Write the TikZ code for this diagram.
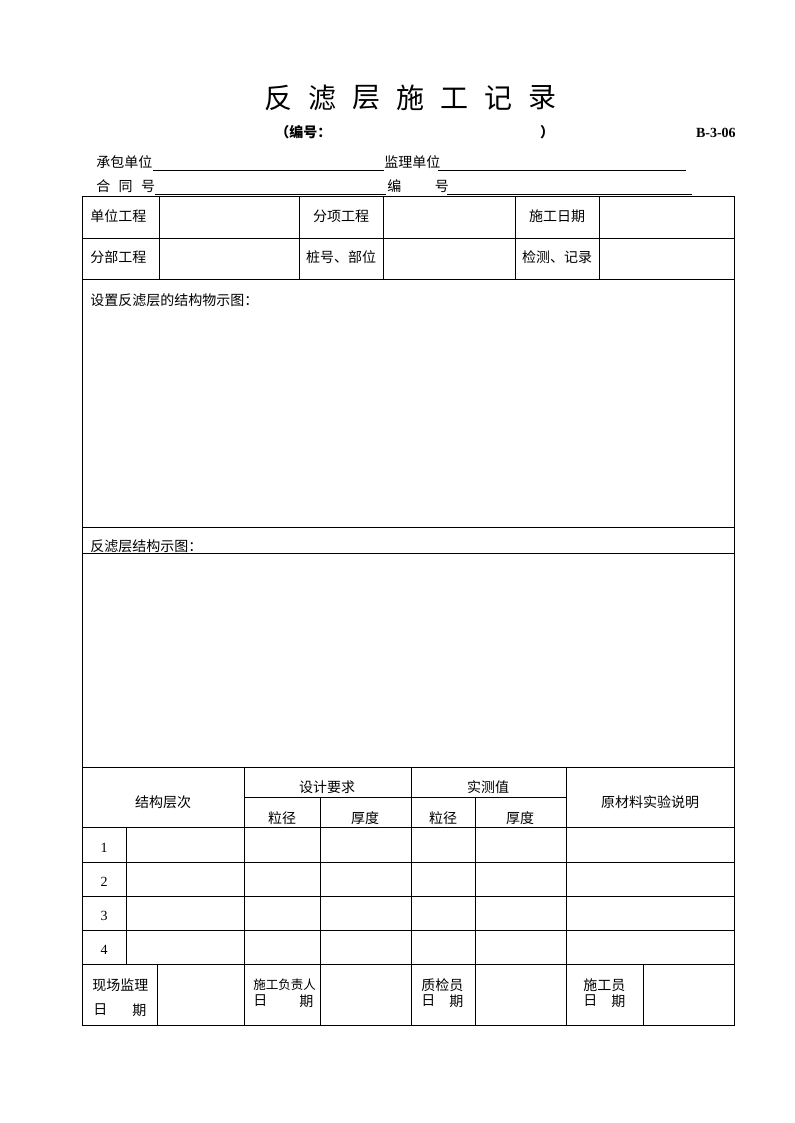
\documentclass[tikz,border=0pt]{standalone}
\usepackage{fontspec}
\setmainfont{Liberation Serif}
\newfontfamily\cjk{Noto Sans CJK SC}
\begin{document}
\begin{tikzpicture}[x=0.75pt,y=-0.75pt]
\tikzstyle{every node}+=[inner sep=0pt]
\tikzstyle{cn}=[font=\cjk\fontsize{10.5}{12}\selectfont]
\tikzstyle{cnl}=[cn,anchor=west]
\tikzstyle{cnb}=[font=\cjk\bfseries\fontsize{10.5}{12}\selectfont]
\tikzstyle{num}=[font=\fontsize{10.5}{12}\selectfont]
\tikzstyle{rule}=[black,line width=0.7pt]
\useasboundingbox (0,0) rectangle (794,1123);
% title
\foreach \c [count=\i from 0] in {反,滤,层,施,工,记,录}
  \draw (278+44*\i,98) node[font=\cjk\fontsize{21}{24}\selectfont] (title\i) {\c};
\draw (275,132) node[cnb,anchor=west] (codeopen) {（编号：};
\draw (547,132) node[cnb] (codeclose) {）};
\draw (736,133) node[anchor=east,font=\bfseries\fontsize{10.5}{12}\selectfont] (formno) {B-3-06};
% fields above the table
\draw (96,162) node[cnl] (contractor) {承包单位};
\draw [rule] (153,170) -- (384,170);
\draw (384,162) node[cnl] (supervisor) {监理单位};
\draw [rule] (438,170) -- (686,170);
\draw (96,186) node[cnl] (contract) {合\hspace{0.6em}同\hspace{0.6em}号};
\draw [rule] (155,194) -- (386,194);
\draw (387,186) node[cnl] (serial) {编\hspace{2.4em}号};
\draw [rule] (447,194) -- (692,194);
% table frame
\draw [rule] (82,196) rectangle (734,1025);
\foreach \y in {238,279,527,553,767,827,862,896,930,964}
  \draw [rule] (82,\y) -- (734,\y);
\foreach \x in {159,299,383,515,599}
  \draw [rule] (\x,196) -- (\x,279);
\draw [rule] (244,797) -- (566,797);
\foreach \x in {244,411,566}
  \draw [rule] (\x,767) -- (\x,1025);
\foreach \x in {320,475}
  \draw [rule] (\x,797) -- (\x,1025);
\draw [rule] (126,827) -- (126,964);
\foreach \x in {157,643}
  \draw [rule] (\x,964) -- (\x,1025);
% first rows
\draw (90,216) node[cnl] (unitwork) {单位工程};
\draw (341,216) node[cn] (subitem) {分项工程};
\draw (557,216) node[cn] (workdate) {施工日期};
\draw (90,257) node[cnl] (partwork) {分部工程};
\draw (341,257) node[cn] (station) {桩号、部位};
\draw (557,257) node[cn] (inspect) {检测、记录};
\draw (90,300) node[cnl] (setsketch) {设置反滤层的结构物示图：};
\draw (90,546) node[cnl] (layersketch) {反滤层结构示图：};
% layer table head
\draw (163,802) node[cn] (layerorder) {结构层次};
\draw (327,787) node[cn] (design) {设计要求};
\draw (488,787) node[cn] (measured) {实测值};
\draw (650,802) node[cn] (material) {原材料实验说明};
\draw (282,818) node[cn] (grainA) {粒径};
\draw (365,818) node[cn] (thickA) {厚度};
\draw (443,818) node[cn] (grainB) {粒径};
\draw (520,818) node[cn] (thickB) {厚度};
\foreach \n [count=\i from 0] in {1,2,3,4}
  \draw (104,848+34*\i) node[num] (layer\n) {\n};
% signatures
\draw (92,985) node[cnl] (siteboss) {现场监理};
\draw (93,1010) node[cnl] (dateA) {日};
\draw (132,1010) node[cnl] (dayA) {期};
\draw (253,985) node[cnl,font=\cjk\fontsize{9.4}{11}\selectfont] (workboss) {施工负责人};
\draw (253,1001) node[cnl] (dateB) {日};
\draw (299,1001) node[cnl] (dayB) {期};
\draw (421,985) node[cnl] (checker) {质检员};
\draw (421,1001) node[cnl] (dateC) {日};
\draw (449,1001) node[cnl] (dayC) {期};
\draw (583,985) node[cnl] (worker) {施工员};
\draw (583,1001) node[cnl] (dateD) {日};
\draw (611,1001) node[cnl] (dayD) {期};
\end{tikzpicture}
\end{document}
